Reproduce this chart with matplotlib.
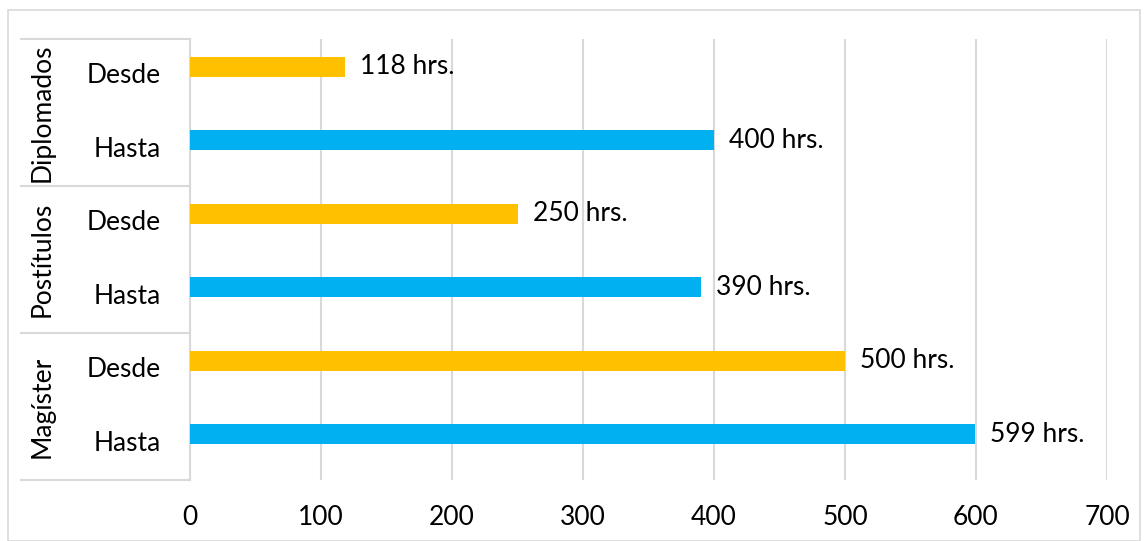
import matplotlib
matplotlib.use("Agg")
import matplotlib.pyplot as plt
from matplotlib.patches import Rectangle
from matplotlib.lines import Line2D
import matplotlib.transforms as mtransforms

plt.rcParams['font.family'] = ['Lato', 'DejaVu Sans']

groups = ["Diplomados", "Postítulos", "Magíster"]
subcats = ["Desde", "Hasta"]
values = [118, 400, 250, 390, 500, 599]
value_labels = ["118 hrs.", "400 hrs.", "250 hrs.", "390 hrs.", "500 hrs.", "599 hrs."]
xticks = [0, 100, 200, 300, 400, 500, 600, 700]

YELLOW = "#FFC000"
BLUE = "#00B0F0"
GRID = "#D9D9D9"
FS = 19

W, H = 1144, 541
fig = plt.figure(figsize=(W / 100, H / 100), dpi=100)

# outer border
fig.patches.append(Rectangle((8 / W, 0), (1140 - 8) / W, 1 - 10 / H, transform=fig.transFigure,
                             fill=False, edgecolor=GRID, linewidth=1.2))

left, right, top, bottom = 190, 1107, 39, 480
ax = fig.add_axes([left / W, 1 - bottom / H, (right - left) / W, (bottom - top) / H])

n = len(values)
ypos = list(range(n))
bar_off = -0.12
colors = [YELLOW if i % 2 == 0 else BLUE for i in range(n)]
ax.barh([y + bar_off for y in ypos], values, height=0.272, color=colors, zorder=3)
ax.set_ylim(n - 0.5, -0.5)
ax.set_xlim(0, 700)
ax.set_xticks(xticks)
ax.set_xticklabels([str(t) for t in xticks], fontsize=FS)
ax.tick_params(axis='x', length=0, pad=18)
ax.set_yticks([])
ax.grid(axis='x', color=GRID, linewidth=1.5, zorder=0)
for s in ['top', 'right', 'bottom']:
    ax.spines[s].set_visible(False)
ax.spines['left'].set_color(GRID)
ax.spines['left'].set_linewidth(1.5)

for y, v, lab in zip(ypos, values, value_labels):
    ax.annotate(lab, (v, y + bar_off), xytext=(11, 0), textcoords='offset points', va='center',
                ha='left', fontsize=FS, color='black', zorder=4)

# category axis
trans = mtransforms.blended_transform_factory(ax.transAxes, ax.transData)
xl = (21 - left) / (right - left)
for b in [-0.5, 1.5, 3.5, 5.5]:
    ax.add_line(Line2D([xl, 0], [b, b], transform=trans, color=GRID, linewidth=1.5, clip_on=False))

xsub = (161 - left) / (right - left)
xgrp = (42 - left) / (right - left)
for i, y in enumerate(ypos):
    ax.text(xsub, y, subcats[i % 2], transform=trans, ha='right', va='center', fontsize=FS, clip_on=False)
for g, name in enumerate(groups):
    ax.text(xgrp, 2 * g + 0.5, name, transform=trans, ha='center', va='center', rotation=90,
            fontsize=FS, clip_on=False)

fig.savefig("out.png", dpi=100)
